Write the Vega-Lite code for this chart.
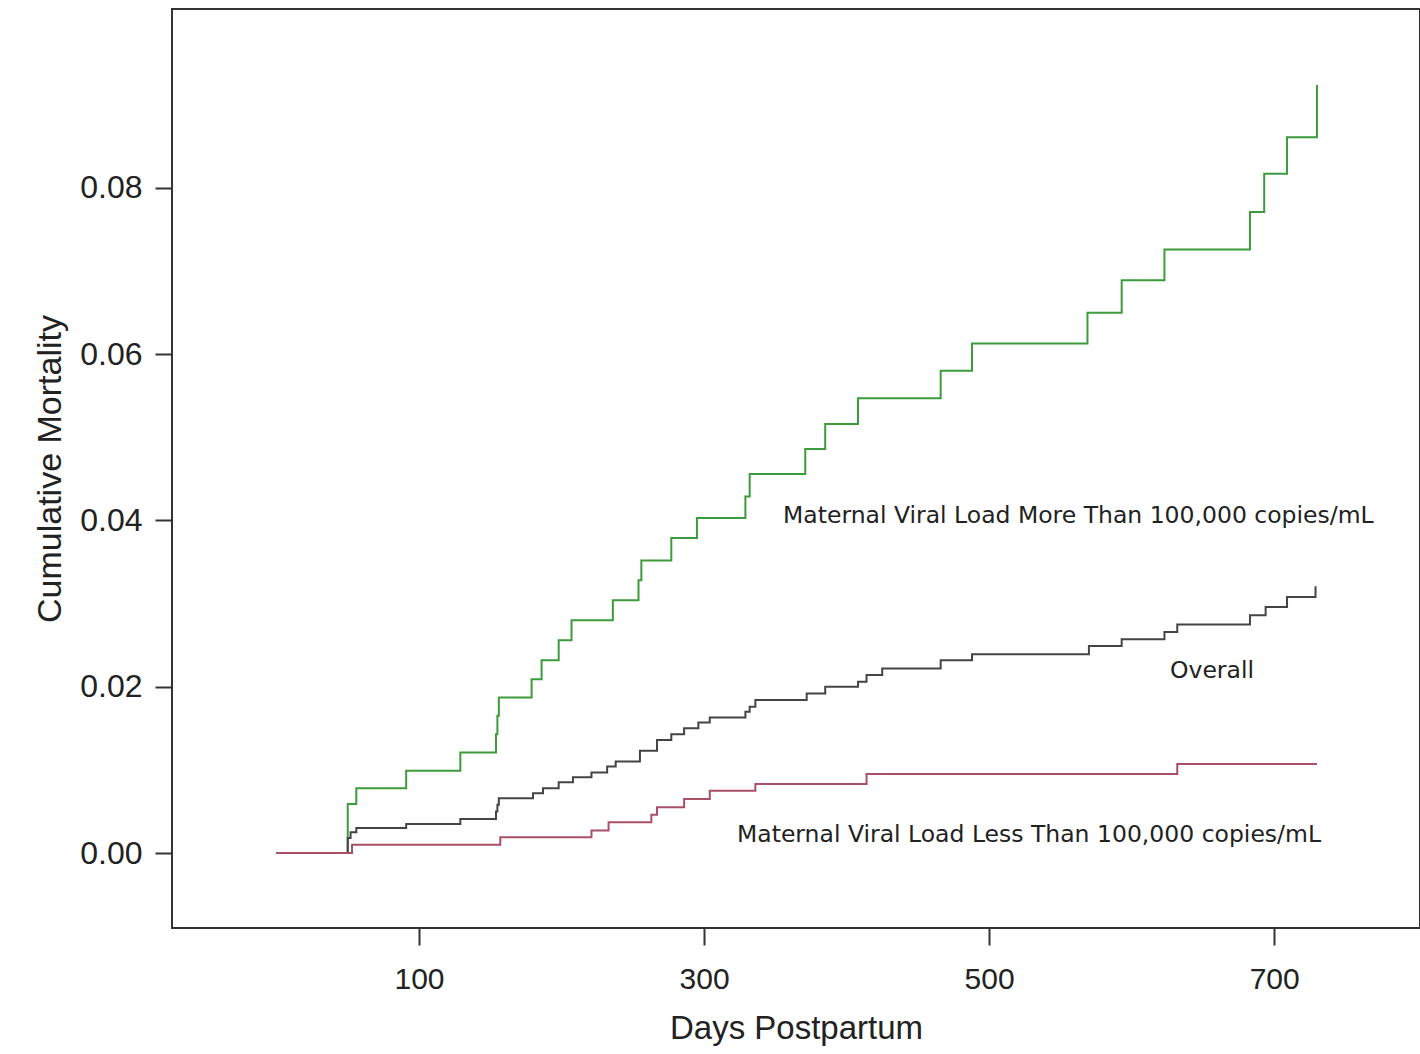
{
  "$schema": "https://vega.github.io/schema/vega-lite/v6.json",
  "width": 1248,
  "height": 919,
  "autosize": {"type": "none"},
  "padding": {"left": 172, "top": 9, "right": 0, "bottom": 126},
  "background": "white",
  "config": {
    "view": {"stroke": "#333", "strokeWidth": 2},
    "font": "Liberation Sans",
    "axis": {
      "grid": false,
      "domain": false,
      "tickColor": "#333",
      "tickWidth": 2,
      "tickSize": 17,
      "labelFont": "Liberation Sans",
      "labelColor": "#222",
      "titleFont": "Liberation Sans",
      "titleFontWeight": "normal",
      "titleColor": "#222"
    }
  },
  "datasets": {
    "curves": [
      {"group": "More", "day": 0, "cm": 0},
      {"group": "More", "day": 50, "cm": 0},
      {"group": "More", "day": 50, "cm": 0.0059},
      {"group": "More", "day": 56, "cm": 0.0078},
      {"group": "More", "day": 91, "cm": 0.0099},
      {"group": "More", "day": 129, "cm": 0.0121},
      {"group": "More", "day": 154, "cm": 0.0143},
      {"group": "More", "day": 155, "cm": 0.0165},
      {"group": "More", "day": 156, "cm": 0.0187},
      {"group": "More", "day": 179, "cm": 0.0209},
      {"group": "More", "day": 186, "cm": 0.0232},
      {"group": "More", "day": 198, "cm": 0.0256},
      {"group": "More", "day": 207, "cm": 0.0280},
      {"group": "More", "day": 236, "cm": 0.0304},
      {"group": "More", "day": 254, "cm": 0.0328},
      {"group": "More", "day": 256, "cm": 0.0352},
      {"group": "More", "day": 277, "cm": 0.0379},
      {"group": "More", "day": 295, "cm": 0.0403},
      {"group": "More", "day": 329, "cm": 0.0429},
      {"group": "More", "day": 332, "cm": 0.0456},
      {"group": "More", "day": 371, "cm": 0.0486},
      {"group": "More", "day": 385, "cm": 0.0516},
      {"group": "More", "day": 408, "cm": 0.0547},
      {"group": "More", "day": 466, "cm": 0.0580},
      {"group": "More", "day": 488, "cm": 0.0613},
      {"group": "More", "day": 569, "cm": 0.0650},
      {"group": "More", "day": 593, "cm": 0.0689},
      {"group": "More", "day": 623, "cm": 0.0726},
      {"group": "More", "day": 683, "cm": 0.0771},
      {"group": "More", "day": 693, "cm": 0.0817},
      {"group": "More", "day": 709, "cm": 0.0861},
      {"group": "More", "day": 730, "cm": 0.0924},

      {"group": "Overall", "day": 0, "cm": 0},
      {"group": "Overall", "day": 50, "cm": 0},
      {"group": "Overall", "day": 50, "cm": 0.0018},
      {"group": "Overall", "day": 52, "cm": 0.0025},
      {"group": "Overall", "day": 56, "cm": 0.0030},
      {"group": "Overall", "day": 91, "cm": 0.0035},
      {"group": "Overall", "day": 129, "cm": 0.0041},
      {"group": "Overall", "day": 154, "cm": 0.0050},
      {"group": "Overall", "day": 155, "cm": 0.0058},
      {"group": "Overall", "day": 156, "cm": 0.0066},
      {"group": "Overall", "day": 180, "cm": 0.0072},
      {"group": "Overall", "day": 187, "cm": 0.0078},
      {"group": "Overall", "day": 198, "cm": 0.0085},
      {"group": "Overall", "day": 208, "cm": 0.0091},
      {"group": "Overall", "day": 221, "cm": 0.0097},
      {"group": "Overall", "day": 232, "cm": 0.0104},
      {"group": "Overall", "day": 238, "cm": 0.0110},
      {"group": "Overall", "day": 255, "cm": 0.0123},
      {"group": "Overall", "day": 267, "cm": 0.0136},
      {"group": "Overall", "day": 277, "cm": 0.0143},
      {"group": "Overall", "day": 286, "cm": 0.0150},
      {"group": "Overall", "day": 296, "cm": 0.0157},
      {"group": "Overall", "day": 304, "cm": 0.0163},
      {"group": "Overall", "day": 329, "cm": 0.0170},
      {"group": "Overall", "day": 332, "cm": 0.0176},
      {"group": "Overall", "day": 336, "cm": 0.0184},
      {"group": "Overall", "day": 372, "cm": 0.0192},
      {"group": "Overall", "day": 385, "cm": 0.0200},
      {"group": "Overall", "day": 408, "cm": 0.0206},
      {"group": "Overall", "day": 414, "cm": 0.0214},
      {"group": "Overall", "day": 425, "cm": 0.0222},
      {"group": "Overall", "day": 466, "cm": 0.0232},
      {"group": "Overall", "day": 488, "cm": 0.0239},
      {"group": "Overall", "day": 570, "cm": 0.0249},
      {"group": "Overall", "day": 593, "cm": 0.0257},
      {"group": "Overall", "day": 623, "cm": 0.0266},
      {"group": "Overall", "day": 632, "cm": 0.0275},
      {"group": "Overall", "day": 683, "cm": 0.0286},
      {"group": "Overall", "day": 694, "cm": 0.0296},
      {"group": "Overall", "day": 709, "cm": 0.0308},
      {"group": "Overall", "day": 729, "cm": 0.0321},

      {"group": "Less", "day": 0, "cm": 0},
      {"group": "Less", "day": 53, "cm": 0},
      {"group": "Less", "day": 53, "cm": 0.0010},
      {"group": "Less", "day": 157, "cm": 0.0019},
      {"group": "Less", "day": 221, "cm": 0.0027},
      {"group": "Less", "day": 233, "cm": 0.0037},
      {"group": "Less", "day": 263, "cm": 0.0046},
      {"group": "Less", "day": 267, "cm": 0.0055},
      {"group": "Less", "day": 286, "cm": 0.0065},
      {"group": "Less", "day": 304, "cm": 0.0075},
      {"group": "Less", "day": 336, "cm": 0.0083},
      {"group": "Less", "day": 414, "cm": 0.0095},
      {"group": "Less", "day": 632, "cm": 0.0107},
      {"group": "Less", "day": 730, "cm": 0.0107}
    ],
    "labels": [
      {"day": 355.4, "cm": 0.04054, "text": "Maternal Viral Load More Than 100,000 copies/mL"},
      {"day": 626.9, "cm": 0.0219, "text": "Overall"},
      {"day": 323.1, "cm": 0.00217, "text": "Maternal Viral Load Less Than 100,000 copies/mL"}
    ]
  },
  "encoding": {
    "x": {
      "field": "day",
      "type": "quantitative",
      "scale": {"domain": [-73.3, 802.3], "nice": false, "zero": false},
      "axis": {"values": [100, 300, 500, 700], "title": "Days Postpartum", "labelFontSize": 30, "titleFontSize": 33, "labelPadding": 19, "titlePadding": 18}
    },
    "y": {
      "field": "cm",
      "type": "quantitative",
      "scale": {"domain": [-0.00902, 0.10153], "nice": false, "zero": false},
      "axis": {"values": [0, 0.02, 0.04, 0.06, 0.08], "format": ".2f", "title": "Cumulative Mortality", "labelFontSize": 32, "titleFontSize": 34, "labelPadding": 13, "titlePadding": 12}
    }
  },
  "layer": [
    {
      "data": {"name": "curves"},
      "mark": {"type": "line", "interpolate": "step-after", "strokeWidth": 2},
      "encoding": {
        "detail": {"field": "group"},
        "color": {
          "field": "group",
          "type": "nominal",
          "scale": {"domain": ["More", "Overall", "Less"], "range": ["#3d9b3d", "#444444", "#a85068"]},
          "legend": null
        }
      }
    },
    {
      "data": {"name": "labels"},
      "mark": {"type": "text", "align": "left", "baseline": "middle", "fontSize": 23.5, "color": "#222", "font": "DejaVu Sans"},
      "encoding": {"text": {"field": "text"}}
    }
  ]
}
